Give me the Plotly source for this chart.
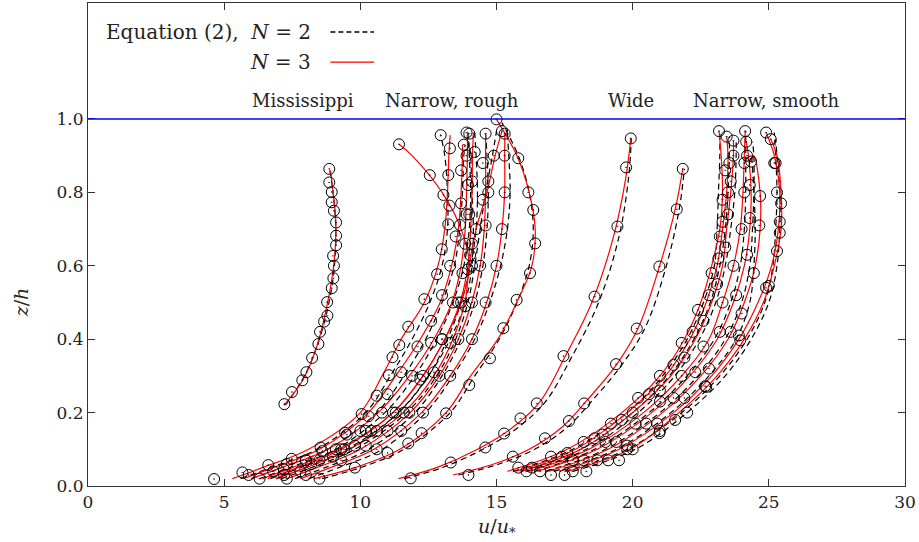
import plotly.graph_objects as go

# ---------------- Mississippi ----------------
mis_pts_u = [8.86, 8.86, 8.95, 8.95, 9.03, 9.11, 9.11, 9.11, 9.00, 9.03, 9.01, 8.95, 8.78, 8.79, 8.67, 8.52, 8.46, 8.23, 8.02, 7.87, 7.49, 7.21]
mis_pts_z = [0.864, 0.827, 0.801, 0.773, 0.750, 0.718, 0.682, 0.656, 0.627, 0.600, 0.566, 0.539, 0.501, 0.464, 0.448, 0.420, 0.387, 0.349, 0.310, 0.288, 0.256, 0.223]
mis_n3_u = [7.2, 7.9, 8.4, 8.8, 9.05, 9.1, 9.0, 8.9]
mis_n3_z = [0.22, 0.29, 0.38, 0.5, 0.62, 0.72, 0.8, 0.86]
mis_n2_u = [7.25, 7.95, 8.45, 8.85, 9.05, 9.1, 9.0, 8.88]
mis_n2_z = [0.22, 0.3, 0.39, 0.5, 0.6, 0.7, 0.8, 0.86]

# ---------------- Narrow, rough ----------------
nr_pts_u = [
    [4.63, 5.67, 6.62, 7.48, 8.54, 9.44, 10.05, 10.6, 11.05, 11.18, 11.43, 11.76, 12.35, 12.82, 12.99, 13.23, 13.27, 13.23, 13.29, 12.95],
    [5.9, 7.3, 8.6, 9.5, 10.3, 11.0, 11.5, 12.1, 12.6, 13.0, 13.3, 13.5, 13.7, 13.7, 13.8],
    [6.3, 7.2, 8.0, 9.1, 10.0, 10.8, 11.9, 12.6, 13.4, 13.75, 13.85, 13.9, 13.95, 13.9, 13.9],
    [7.2, 8.2, 9.3, 10.2, 11.2, 12.2, 13.0, 13.6, 13.95, 14.1, 14.0, 14.1, 14.2, 14.0],
    [7.3, 8.5, 9.8, 10.6, 11.6, 12.7, 13.3, 13.85, 14.1, 14.25, 14.5, 14.7, 14.9, 15.2],
    [7.8, 9.0, 10.2, 11.0, 11.8, 12.9, 13.6, 14.1, 14.4, 14.6, 14.7, 14.5, 14.6],
    [8.0, 9.3, 10.6, 11.5, 12.3, 13.3, 14.1, 14.6, 15.0, 15.2, 15.3, 15.3, 15.3],
    [8.5, 9.8, 11.0, 11.76, 12.25, 13.15, 14.0, 14.76, 15.25, 15.74, 16.23, 16.42, 16.35, 16.17, 15.8, 15.0],
    [6.8, 8.0, 9.4, 10.4, 11.3, 12.3, 13.0, 13.7, 14.03, 13.66, 13.05, 12.55, 11.42],
]
nr_pts_z = [
    [0.019, 0.037, 0.057, 0.074, 0.105, 0.145, 0.196, 0.246, 0.302, 0.351, 0.384, 0.434, 0.509, 0.577, 0.645, 0.713, 0.764, 0.847, 0.92, 0.956],
    [0.03, 0.06, 0.095, 0.14, 0.19, 0.25, 0.31, 0.38, 0.45, 0.52, 0.6, 0.68, 0.77, 0.86, 0.93],
    [0.02, 0.045, 0.07, 0.1, 0.15, 0.2, 0.3, 0.39, 0.5, 0.58, 0.66, 0.74, 0.82, 0.9, 0.963],
    [0.03, 0.06, 0.1, 0.15, 0.2, 0.29, 0.4, 0.5, 0.59, 0.66, 0.74, 0.83, 0.91, 0.96],
    [0.02, 0.07, 0.11, 0.15, 0.2, 0.31, 0.39, 0.49, 0.6, 0.7, 0.78, 0.83, 0.9, 0.967],
    [0.04, 0.08, 0.11, 0.15, 0.2, 0.3, 0.4, 0.5, 0.6, 0.71, 0.8, 0.88, 0.96],
    [0.03, 0.07, 0.1, 0.15, 0.2, 0.3, 0.4, 0.5, 0.6, 0.7, 0.8, 0.9, 0.96],
    [0.02, 0.05, 0.09, 0.116, 0.144, 0.198, 0.275, 0.348, 0.43, 0.507, 0.58, 0.661, 0.752, 0.8, 0.893, 0.999],
    [0.04, 0.07, 0.1, 0.15, 0.2, 0.3, 0.4, 0.5, 0.629, 0.711, 0.793, 0.847, 0.931],
]
nr_z_grid = [0.02, 0.05, 0.1, 0.2, 0.3, 0.4, 0.5, 0.6, 0.7, 0.8, 0.9]
nr_n3_u = [
    [5.3, 6.4, 8.1, 10.0, 10.8, 11.5, 12.35, 12.85, 13.1, 13.2, 13.25],
    [5.7, 6.8, 8.5, 10.3, 11.3, 12.2, 12.93, 13.35, 13.6, 13.7, 13.75],
    [6.0, 7.1, 8.8, 10.66, 11.8, 12.7, 13.36, 13.7, 13.85, 13.9, 13.93],
    [6.4, 7.5, 9.2, 11.2, 12.3, 13.1, 13.66, 13.95, 14.05, 14.1, 14.12],
    [6.9, 8.0, 9.6, 11.58, 12.7, 13.4, 13.84, 14.0, 14.25, 14.65, 14.95],
    [7.3, 8.4, 10.0, 11.83, 12.9, 13.6, 14.09, 14.4, 14.55, 14.6, 14.6],
    [7.8, 8.9, 10.5, 12.25, 13.3, 14.1, 14.64, 15.0, 15.2, 15.3, 15.3],
    [8.3, 9.8, 11.45, 13.15, 14.05, 15.05, 15.74, 16.3, 16.42, 16.2, 15.75],
    [6.6, 7.7, 9.3, 11.2, 12.3, 13.1, 13.7, 14.0, 13.7, 13.0, 11.9],
]
nr_n3_top_u = [13.3, 13.75, 13.93, 14.15, 15.2, 14.6, 15.31, 15.0, 11.42]
nr_n3_top_z = [0.956, 0.93, 0.963, 0.963, 0.967, 0.96, 0.961, 0.999, 0.931]
nr_n2_u = [
    [5.6, 6.7, 8.4, 10.2, 11.1, 11.9, 12.55, 13.0, 13.2, 13.2, 13.1],
    [6.0, 7.1, 8.8, 10.6, 11.6, 12.4, 13.0, 13.45, 13.65, 13.75, 13.8],
    [6.3, 7.4, 9.1, 10.9, 12.0, 12.8, 13.4, 13.8, 14.0, 14.05, 14.0],
    [6.7, 7.8, 9.5, 11.4, 12.5, 13.2, 13.7, 14.05, 14.25, 14.3, 14.25],
    [7.1, 8.2, 9.8, 11.7, 12.8, 13.5, 13.95, 14.2, 14.4, 14.6, 14.85],
    [7.6, 8.7, 10.3, 12.0, 13.0, 13.7, 14.2, 14.5, 14.65, 14.7, 14.65],
    [8.1, 9.2, 10.8, 12.4, 13.4, 14.2, 14.75, 15.15, 15.4, 15.5, 15.45],
    [8.6, 10.0, 11.6, 13.3, 14.2, 15.1, 15.75, 16.2, 16.35, 16.2, 15.8],
    [6.9, 8.0, 9.6, 11.4, 12.5, 13.3, 13.85, 14.1, 14.15, 14.1, 14.05],
]
nr_n2_top_u = [12.95, 13.85, 13.95, 14.2, 15.0, 14.6, 15.4, 15.2, 14.0]
nr_n2_top_z = [0.956, 0.93, 0.963, 0.963, 0.967, 0.96, 0.961, 0.99, 0.931]

# ---------------- Wide ----------------
wd_pts_u = [
    [11.85, 13.32, 14.59, 15.28, 15.88, 16.48, 17.46, 18.6, 19.44, 19.76, 19.93],
    [13.97, 15.6, 16.78, 17.66, 18.22, 19.39, 20.15, 20.98, 21.62, 21.84],
]
wd_pts_z = [
    [0.021, 0.064, 0.105, 0.143, 0.184, 0.225, 0.354, 0.516, 0.707, 0.868, 0.947],
    [0.03, 0.08, 0.13, 0.177, 0.225, 0.332, 0.429, 0.598, 0.754, 0.864],
]
wd_n3_u = [
    [11.4, 12.8, 14.3, 15.6, 16.6, 17.5, 18.5, 19.3, 19.75, 19.93],
    [13.4, 14.9, 16.2, 17.4, 18.4, 19.4, 20.2, 20.95, 21.55, 21.84],
]
wd_n3_z = [
    [0.02, 0.05, 0.1, 0.16, 0.23, 0.35, 0.5, 0.68, 0.84, 0.947],
    [0.03, 0.06, 0.1, 0.16, 0.24, 0.33, 0.43, 0.59, 0.75, 0.864],
]
wd_n2_u = [
    [11.6, 13.0, 14.5, 15.8, 16.8, 17.75, 18.75, 19.5, 19.85, 19.95],
    [13.6, 15.1, 16.4, 17.6, 18.6, 19.6, 20.45, 21.2, 21.7, 21.9],
]
wd_n2_z = [
    [0.02, 0.05, 0.1, 0.16, 0.23, 0.35, 0.5, 0.68, 0.84, 0.947],
    [0.03, 0.06, 0.1, 0.16, 0.24, 0.33, 0.43, 0.59, 0.75, 0.864],
]

# ---------------- Narrow, smooth ----------------
ns_pts_u = [
    [15.8, 17.0, 18.2, 19.2, 20.2, 21.0, 21.8, 22.4, 22.9, 23.2, 23.3, 23.4, 23.17],
    [16.1, 17.4, 18.6, 19.6, 20.6, 21.5, 22.2, 22.8, 23.15, 23.3, 23.5, 23.55, 23.45],
    [16.3, 17.6, 18.9, 20.0, 21.0, 21.9, 22.6, 23.1, 23.4, 23.5, 23.6, 23.7, 23.7],
    [16.6, 17.8, 19.0, 20.1, 21.0, 21.8, 22.6, 23.3, 23.7, 24.0, 24.1, 24.1, 24.13],
    [17.0, 18.2, 19.4, 20.5, 21.5, 22.3, 23.2, 23.8, 24.2, 24.3, 24.3, 24.2, 24.17],
    [17.5, 18.7, 19.8, 20.9, 21.9, 22.8, 23.6, 24.0, 24.45, 24.65, 24.68, 24.35],
    [17.8, 19.1, 20.0, 21.0, 22.0, 22.7, 23.9, 24.9, 25.3, 25.4, 25.3, 25.2, 24.9],
    [18.3, 19.5, 19.8, 20.98, 21.56, 22.66, 23.95, 25.0, 25.4, 25.45, 25.25, 25.07],
]
ns_pts_z = [
    [0.05, 0.08, 0.12, 0.17, 0.24, 0.3, 0.39, 0.48, 0.58, 0.68, 0.78, 0.86, 0.967],
    [0.04, 0.08, 0.13, 0.18, 0.25, 0.33, 0.42, 0.52, 0.62, 0.72, 0.8, 0.88, 0.952],
    [0.05, 0.09, 0.14, 0.2, 0.26, 0.35, 0.45, 0.55, 0.65, 0.74, 0.83, 0.9, 0.941],
    [0.04, 0.07, 0.12, 0.17, 0.23, 0.3, 0.38, 0.5, 0.6, 0.7, 0.8, 0.88, 0.967],
    [0.03, 0.07, 0.12, 0.17, 0.24, 0.31, 0.42, 0.52, 0.63, 0.73, 0.82, 0.9, 0.938],
    [0.03, 0.07, 0.11, 0.17, 0.24, 0.32, 0.42, 0.47, 0.58, 0.71, 0.79, 0.884],
    [0.04, 0.07, 0.1, 0.15, 0.2, 0.27, 0.41, 0.54, 0.64, 0.72, 0.8, 0.88, 0.963],
    [0.04, 0.07, 0.1, 0.144, 0.18, 0.272, 0.397, 0.545, 0.69, 0.77, 0.88, 0.945],
]
ns_z_grid = [0.04, 0.1, 0.2, 0.3, 0.4, 0.5, 0.6, 0.7, 0.8, 0.9]
ns_n3_u = [
    [15.4, 17.6, 19.6, 21.0, 21.9, 22.5, 22.9, 23.2, 23.3, 23.25],
    [15.7, 17.9, 19.8, 21.2, 22.1, 22.7, 23.1, 23.3, 23.45, 23.5],
    [15.9, 18.1, 20.0, 21.4, 22.3, 22.9, 23.3, 23.45, 23.6, 23.7],
    [16.2, 18.4, 20.4, 21.8, 22.8, 23.3, 23.7, 23.95, 24.05, 24.1],
    [16.5, 18.7, 20.7, 22.1, 23.1, 23.7, 24.1, 24.3, 24.35, 24.25],
    [16.9, 19.1, 21.1, 22.5, 23.5, 24.1, 24.5, 24.68, 24.68, 24.45],
    [17.3, 19.5, 21.5, 22.9, 23.9, 24.6, 25.1, 25.35, 25.4, 25.2],
    [17.6, 19.9, 21.7, 23.1, 24.1, 24.8, 25.2, 25.45, 25.45, 25.3],
]
ns_n3_top_u = [23.17, 23.45, 23.7, 24.13, 24.17, 24.35, 24.9, 25.07]
ns_n3_top_z = [0.967, 0.952, 0.941, 0.967, 0.938, 0.884, 0.963, 0.945]
ns_n2_u = [
    [15.6, 17.8, 19.8, 21.1, 22.0, 22.6, 23.0, 23.1, 23.15, 23.2],
    [15.9, 18.1, 20.0, 21.35, 22.25, 22.85, 23.2, 23.4, 23.5, 23.55],
    [16.1, 18.3, 20.2, 21.55, 22.45, 23.05, 23.4, 23.6, 23.75, 23.8],
    [16.4, 18.6, 20.6, 22.0, 23.0, 23.6, 23.95, 24.1, 24.15, 24.15],
    [16.8, 19.0, 21.0, 22.4, 23.4, 24.0, 24.3, 24.4, 24.45, 24.45],
    [17.1, 19.4, 21.4, 22.8, 23.8, 24.3, 24.45, 24.5, 24.45, 24.35],
    [17.5, 19.8, 21.8, 23.2, 24.2, 24.85, 25.15, 25.25, 25.3, 25.25],
    [17.8, 20.1, 22.0, 23.4, 24.35, 25.0, 25.3, 25.4, 25.4, 25.3],
]
ns_n2_top_u = [23.2, 23.55, 23.8, 24.15, 24.4, 24.3, 25.2, 25.25]
ns_n2_top_z = [0.967, 0.952, 0.941, 0.967, 0.938, 0.884, 0.963, 0.945]

# ---------------- labels ----------------
group_labels = ["Mississippi", "Narrow, rough", "Wide", "Narrow, smooth"]
group_label_u = [7.9, 13.37, 19.94, 24.9]
x_ticks = [0, 5, 10, 15, 20, 25, 30]
y_ticks = [0.0, 0.2, 0.4, 0.6, 0.8, 1.0]

FONT = "DejaVu Serif"
TXT = "#222222"

fig = go.Figure()

def add_curve(u, z, kind):
    if kind == "n2":
        line = dict(color="black", width=1.2, dash="6px,4px", shape="spline", smoothing=1.0)
    else:
        line = dict(color="red", width=1.2, shape="spline", smoothing=1.0)
    fig.add_trace(go.Scatter(x=u, y=z, mode="lines", line=line, hoverinfo="skip", showlegend=False))

def add_pts(u, z):
    fig.add_trace(go.Scatter(x=u, y=z, mode="markers", showlegend=False,
                             marker=dict(symbol="circle-open-dot", size=11, color="black",
                                         line=dict(width=1, color="black"))))

# dashed N=2 curves
add_curve(mis_n2_u, mis_n2_z, "n2")
for i in range(len(nr_n2_u)):
    add_curve(nr_n2_u[i] + [nr_n2_top_u[i]], nr_z_grid + [nr_n2_top_z[i]], "n2")
for i in range(len(wd_n2_u)):
    add_curve(wd_n2_u[i], wd_n2_z[i], "n2")
for i in range(len(ns_n2_u)):
    add_curve(ns_n2_u[i] + [ns_n2_top_u[i]], ns_z_grid + [ns_n2_top_z[i]], "n2")

# red N=3 curves
add_curve(mis_n3_u, mis_n3_z, "n3")
for i in range(len(nr_n3_u)):
    add_curve(nr_n3_u[i] + [nr_n3_top_u[i]], nr_z_grid + [nr_n3_top_z[i]], "n3")
for i in range(len(wd_n3_u)):
    add_curve(wd_n3_u[i], wd_n3_z[i], "n3")
for i in range(len(ns_n3_u)):
    add_curve(ns_n3_u[i] + [ns_n3_top_u[i]], ns_z_grid + [ns_n3_top_z[i]], "n3")

# measured points
add_pts(mis_pts_u, mis_pts_z)
for i in range(len(nr_pts_u)):
    add_pts(nr_pts_u[i], nr_pts_z[i])
for i in range(len(wd_pts_u)):
    add_pts(wd_pts_u[i], wd_pts_z[i])
for i in range(len(ns_pts_u)):
    add_pts(ns_pts_u[i], ns_pts_z[i])

# free surface line
fig.add_shape(type="line", xref="x", yref="y", x0=0, x1=30, y0=1.0, y1=1.0,
              line=dict(color="blue", width=1.3))

# group labels
for lab, xu in zip(group_labels, group_label_u):
    fig.add_annotation(x=xu, y=1.049, xref="x", yref="y", text=lab, showarrow=False,
                       font=dict(family=FONT, size=18, color=TXT), xanchor="center", yanchor="middle")

# legend (text left, line sample right)
fig.add_annotation(x=8.25, y=1.237, xref="x", yref="y", text="Equation (2),  <i>N</i> = 2",
                   showarrow=False, xanchor="right", yanchor="middle",
                   font=dict(family=FONT, size=20, color=TXT))
fig.add_annotation(x=8.25, y=1.155, xref="x", yref="y", text="<i>N</i> = 3",
                   showarrow=False, xanchor="right", yanchor="middle",
                   font=dict(family=FONT, size=20, color=TXT))
fig.add_shape(type="line", xref="x", yref="y", x0=8.9, x1=10.5, y0=1.237, y1=1.237,
              line=dict(color="black", width=1.3, dash="5px,3px"))
fig.add_shape(type="line", xref="x", yref="y", x0=8.9, x1=10.5, y0=1.155, y1=1.155,
              line=dict(color="red", width=1.3))

# axis titles
fig.add_annotation(x=0.5, y=-0.085, xref="paper", yref="paper",
                   text="<i>u</i>/<i>u</i><sub>*</sub>", showarrow=False,
                   font=dict(family=FONT, size=19, color=TXT), xanchor="center", yanchor="middle")
fig.add_annotation(x=-0.081, y=0.5, xref="paper", yref="y", text="<i>z</i>/<i>h</i>",
                   showarrow=False, textangle=-90,
                   font=dict(family=FONT, size=19, color=TXT), xanchor="center", yanchor="middle")

axis_common = dict(showline=True, linecolor="#333333", linewidth=1.2, mirror="ticks",
                   ticks="inside", ticklen=7, tickcolor="#333333", showgrid=False, zeroline=False,
                   tickfont=dict(family=FONT, size=17, color=TXT))
fig.update_xaxes(range=[0, 30], tickvals=x_ticks, **axis_common)
fig.update_yaxes(range=[0, 1.316], tickvals=y_ticks, tickformat=".1f", **axis_common)

fig.update_layout(width=919, height=542, margin=dict(l=88, r=14, t=3, b=56),
                  plot_bgcolor="white", paper_bgcolor="white", showlegend=False)

fig.write_html("out.html", config={"displayModeBar": False},
               post_script="document.body.style.margin='0';document.body.style.overflow='hidden';")
